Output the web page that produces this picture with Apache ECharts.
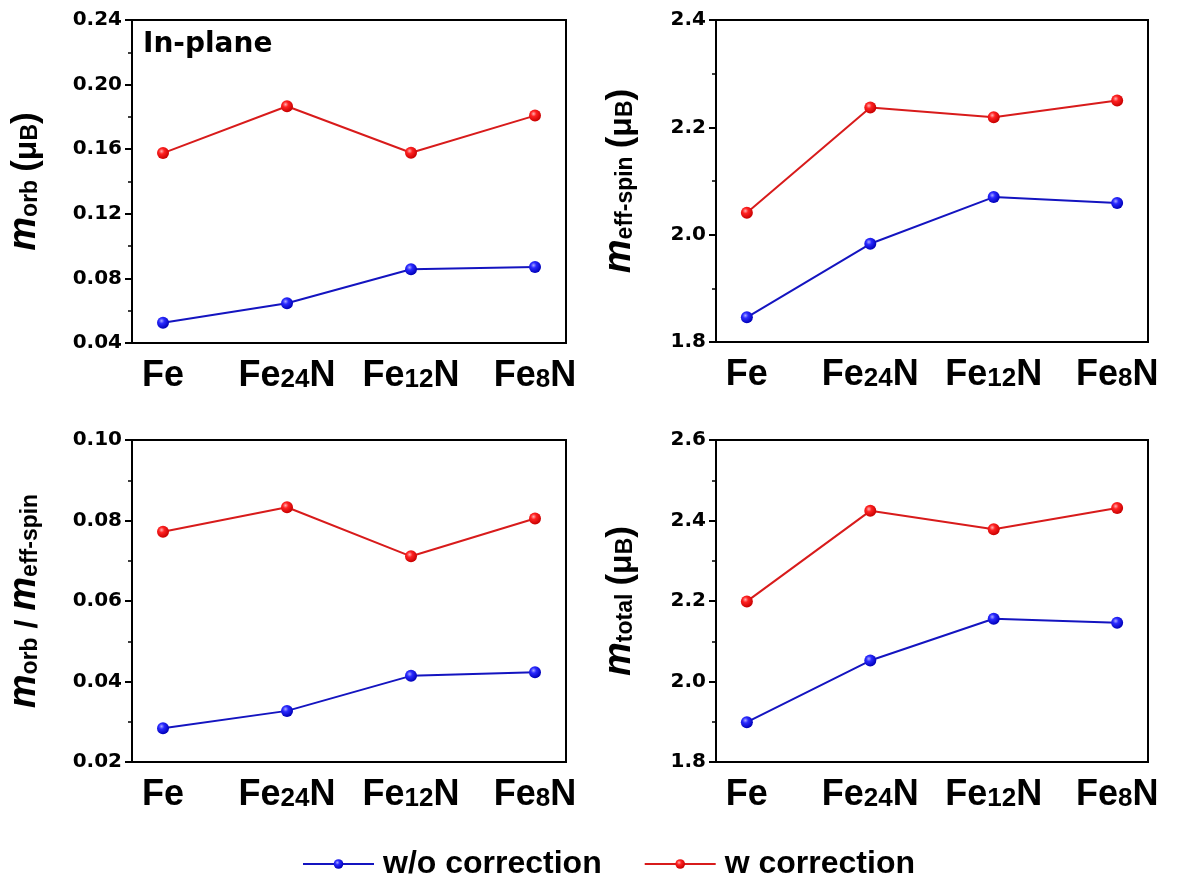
<!DOCTYPE html>
<html>
<head>
<meta charset="utf-8">
<title>Fe-N magnetic moments</title>
<script src="https://cdn.jsdelivr.net/npm/echarts@6/dist/echarts.min.js"></script>
<style>
  html, body { margin: 0; padding: 0; background: #fff; }
  #chart { width: 1185px; height: 880px; }
</style>
</head>
<body>
<div id="chart"></div>
<script>
// Samples along the x axis (digits are drawn as small subscripts)
const categories = ['Fe', 'Fe24N', 'Fe12N', 'Fe8N'];

// Orbital moment m_orb (μB)
const orbWo = [0.0526, 0.0646, 0.0857, 0.0870];
const orbW = [0.1576, 0.1866, 0.1578, 0.1808];

// Effective spin moment m_eff-spin (μB)
const spinWo = [1.846, 1.983, 2.070, 2.059];
const spinW = [2.041, 2.237, 2.219, 2.250];

// Ratio m_orb / m_eff-spin
const ratioWo = [0.0284, 0.0327, 0.0414, 0.0423];
const ratioW = [0.0772, 0.0833, 0.0711, 0.0805];

// Total moment m_total (μB)
const totalWo = [1.899, 2.052, 2.156, 2.146];
const totalW = [2.199, 2.424, 2.378, 2.431];

const seriesNames = ['w/o correction', 'w correction'];

// Y axis ranges per panel: [min, max, interval, decimals]
const yRanges = [
  [0.04, 0.24, 0.04, 2],
  [1.8, 2.4, 0.2, 1],
  [0.02, 0.10, 0.02, 2],
  [1.8, 2.6, 0.2, 1]
];

const panelData = [
  [orbWo, orbW],
  [spinWo, spinW],
  [ratioWo, ratioW],
  [totalWo, totalW]
];

// Rotated y-axis titles (rich text)
const yNames = [
  '{m|m}{s|orb}{g| }{p|(}{u|μ}{b|B}{p|)}',
  '{m|m}{s|eff-spin}{g| }{p|(}{u|μ}{b|B}{p|)}',
  '{m|m}{s|orb}{t| / }{m|m}{s|eff-spin}',
  '{m|m}{s|total}{g| }{p|(}{u|μ}{b|B}{p|)}'
];

const SANS = 'Liberation Sans, Arial, sans-serif';
const WIDE = 'DejaVu Sans, sans-serif';

const grids = [
  { left: 132, top: 20, width: 434, height: 323 },
  { left: 716, top: 20, width: 432, height: 322 },
  { left: 132, top: 440, width: 434, height: 322 },
  { left: 716, top: 440, width: 432, height: 322 }
];
const nameGaps = [88, 77, 88, 77];

const lineColors = ['#1414c0', '#d81b1b'];
function ball(light, mid, dark) {
  return {
    type: 'radial', x: 0.38, y: 0.35, r: 0.65,
    colorStops: [
      { offset: 0, color: light },
      { offset: 0.35, color: mid },
      { offset: 1, color: dark }
    ]
  };
}
const markerFills = [
  ball('#a8a8ff', '#2a2aff', '#0000b8'),
  ball('#ffb0b0', '#ff2222', '#c80000')
];

function catLabel(v) {
  const name = categories[Math.round(v)];
  if (name === undefined) return '';
  const parts = name.match(/^([A-Za-z]+)(\d*)([A-Za-z]*)$/);
  let s = '{a|' + parts[1] + '}';
  if (parts[2]) s += '{s|' + parts[2] + '}';
  if (parts[3]) s += '{a|' + parts[3] + '}';
  return s;
}

const xAxes = [], yAxes = [], series = [];
grids.forEach((g, i) => {
  xAxes.push({
    type: 'value', gridIndex: i, min: -0.25, max: 3.25,
    axisLine: { show: true, onZero: false, lineStyle: { color: '#000', width: 2 } },
    axisTick: { show: false },
    splitLine: { show: false },
    axisLabel: {
      customValues: [0, 1, 2, 3],
      margin: 15,
      formatter: catLabel,
      rich: {
        a: { fontFamily: SANS, fontWeight: 'bold', fontSize: 36, color: '#000', lineHeight: 36, verticalAlign: 'bottom' },
        s: { fontFamily: SANS, fontWeight: 'bold', fontSize: 26, color: '#000', lineHeight: 26, verticalAlign: 'bottom', padding: [0, 0, 1, 0] }
      }
    }
  });
  const r = yRanges[i];
  yAxes.push({
    type: 'value', gridIndex: i, min: r[0], max: r[1], interval: r[2],
    axisLine: { show: true, onZero: false, lineStyle: { color: '#000', width: 2 } },
    axisTick: { show: true, inside: false, length: 7, lineStyle: { color: '#000', width: 2 } },
    minorTick: { show: true, splitNumber: 2, length: 4, lineStyle: { color: '#000', width: 1.5 } },
    splitLine: { show: false },
    axisLabel: {
      margin: 10,
      fontFamily: WIDE, fontWeight: 'bold', fontSize: 20, color: '#000',
      formatter: v => v.toFixed(r[3])
    },
    name: yNames[i],
    nameLocation: 'middle',
    nameGap: nameGaps[i],
    nameRotate: 90,
    nameTextStyle: {
      rich: {
        m: { fontFamily: SANS, fontWeight: 'bold', fontStyle: 'italic', fontSize: 38, color: '#000', lineHeight: 40, verticalAlign: 'bottom' },
        s: { fontFamily: SANS, fontWeight: 'bold', fontSize: 23, color: '#000', lineHeight: 23, verticalAlign: 'bottom', padding: [0, 0, 2, 0] },
        g: { fontFamily: SANS, fontSize: 23, color: '#000', lineHeight: 23, verticalAlign: 'bottom', width: 8 },
        p: { fontFamily: SANS, fontWeight: 'bold', fontSize: 35, color: '#000', lineHeight: 40, verticalAlign: 'bottom' },
        u: { fontFamily: SANS, fontWeight: 'bold', fontSize: 32, color: '#000', lineHeight: 34, verticalAlign: 'bottom', padding: [0, 0, 1, 0] },
        b: { fontFamily: SANS, fontWeight: 'bold', fontSize: 23, color: '#000', lineHeight: 23, verticalAlign: 'bottom', padding: [0, 0, 2, 0] },
        t: { fontFamily: SANS, fontWeight: 'bold', fontSize: 32, color: '#000', lineHeight: 40, verticalAlign: 'bottom' }
      }
    }
  });
  panelData[i].forEach((vals, k) => {
    series.push({
      name: seriesNames[k],
      type: 'line',
      xAxisIndex: i, yAxisIndex: i,
      data: vals.map((v, j) => [j, v]),
      symbol: 'circle',
      symbolSize: 12,
      showSymbol: true,
      lineStyle: { color: lineColors[k], width: 2 },
      itemStyle: { color: markerFills[k], borderWidth: 0 },
      emphasis: { disabled: true },
      z: 3 + k
    });
  });
});

const chart = echarts.init(document.getElementById('chart'), null, { renderer: 'canvas' });
chart.setOption({
  backgroundColor: '#fff',
  animation: false,
  grid: grids.map(g => Object.assign({ show: true, borderColor: '#000', borderWidth: 2, backgroundColor: 'transparent', containLabel: false }, g)),
  xAxis: xAxes,
  yAxis: yAxes,
  legend: {
    data: seriesNames,
    left: 297,
    top: 843,
    itemWidth: 71,
    itemHeight: 12,
    itemGap: 42,
    textStyle: { fontFamily: SANS, fontWeight: 'bold', fontSize: 32, color: '#000', padding: [0, 0, 0, 4] }
  },
  graphic: [{
    type: 'text',
    left: 143,
    top: 31,
    style: { text: 'In-plane', font: 'bold 28px DejaVu Sans', fill: '#000' }
  }],
  series: series
});
</script>
</body>
</html>
